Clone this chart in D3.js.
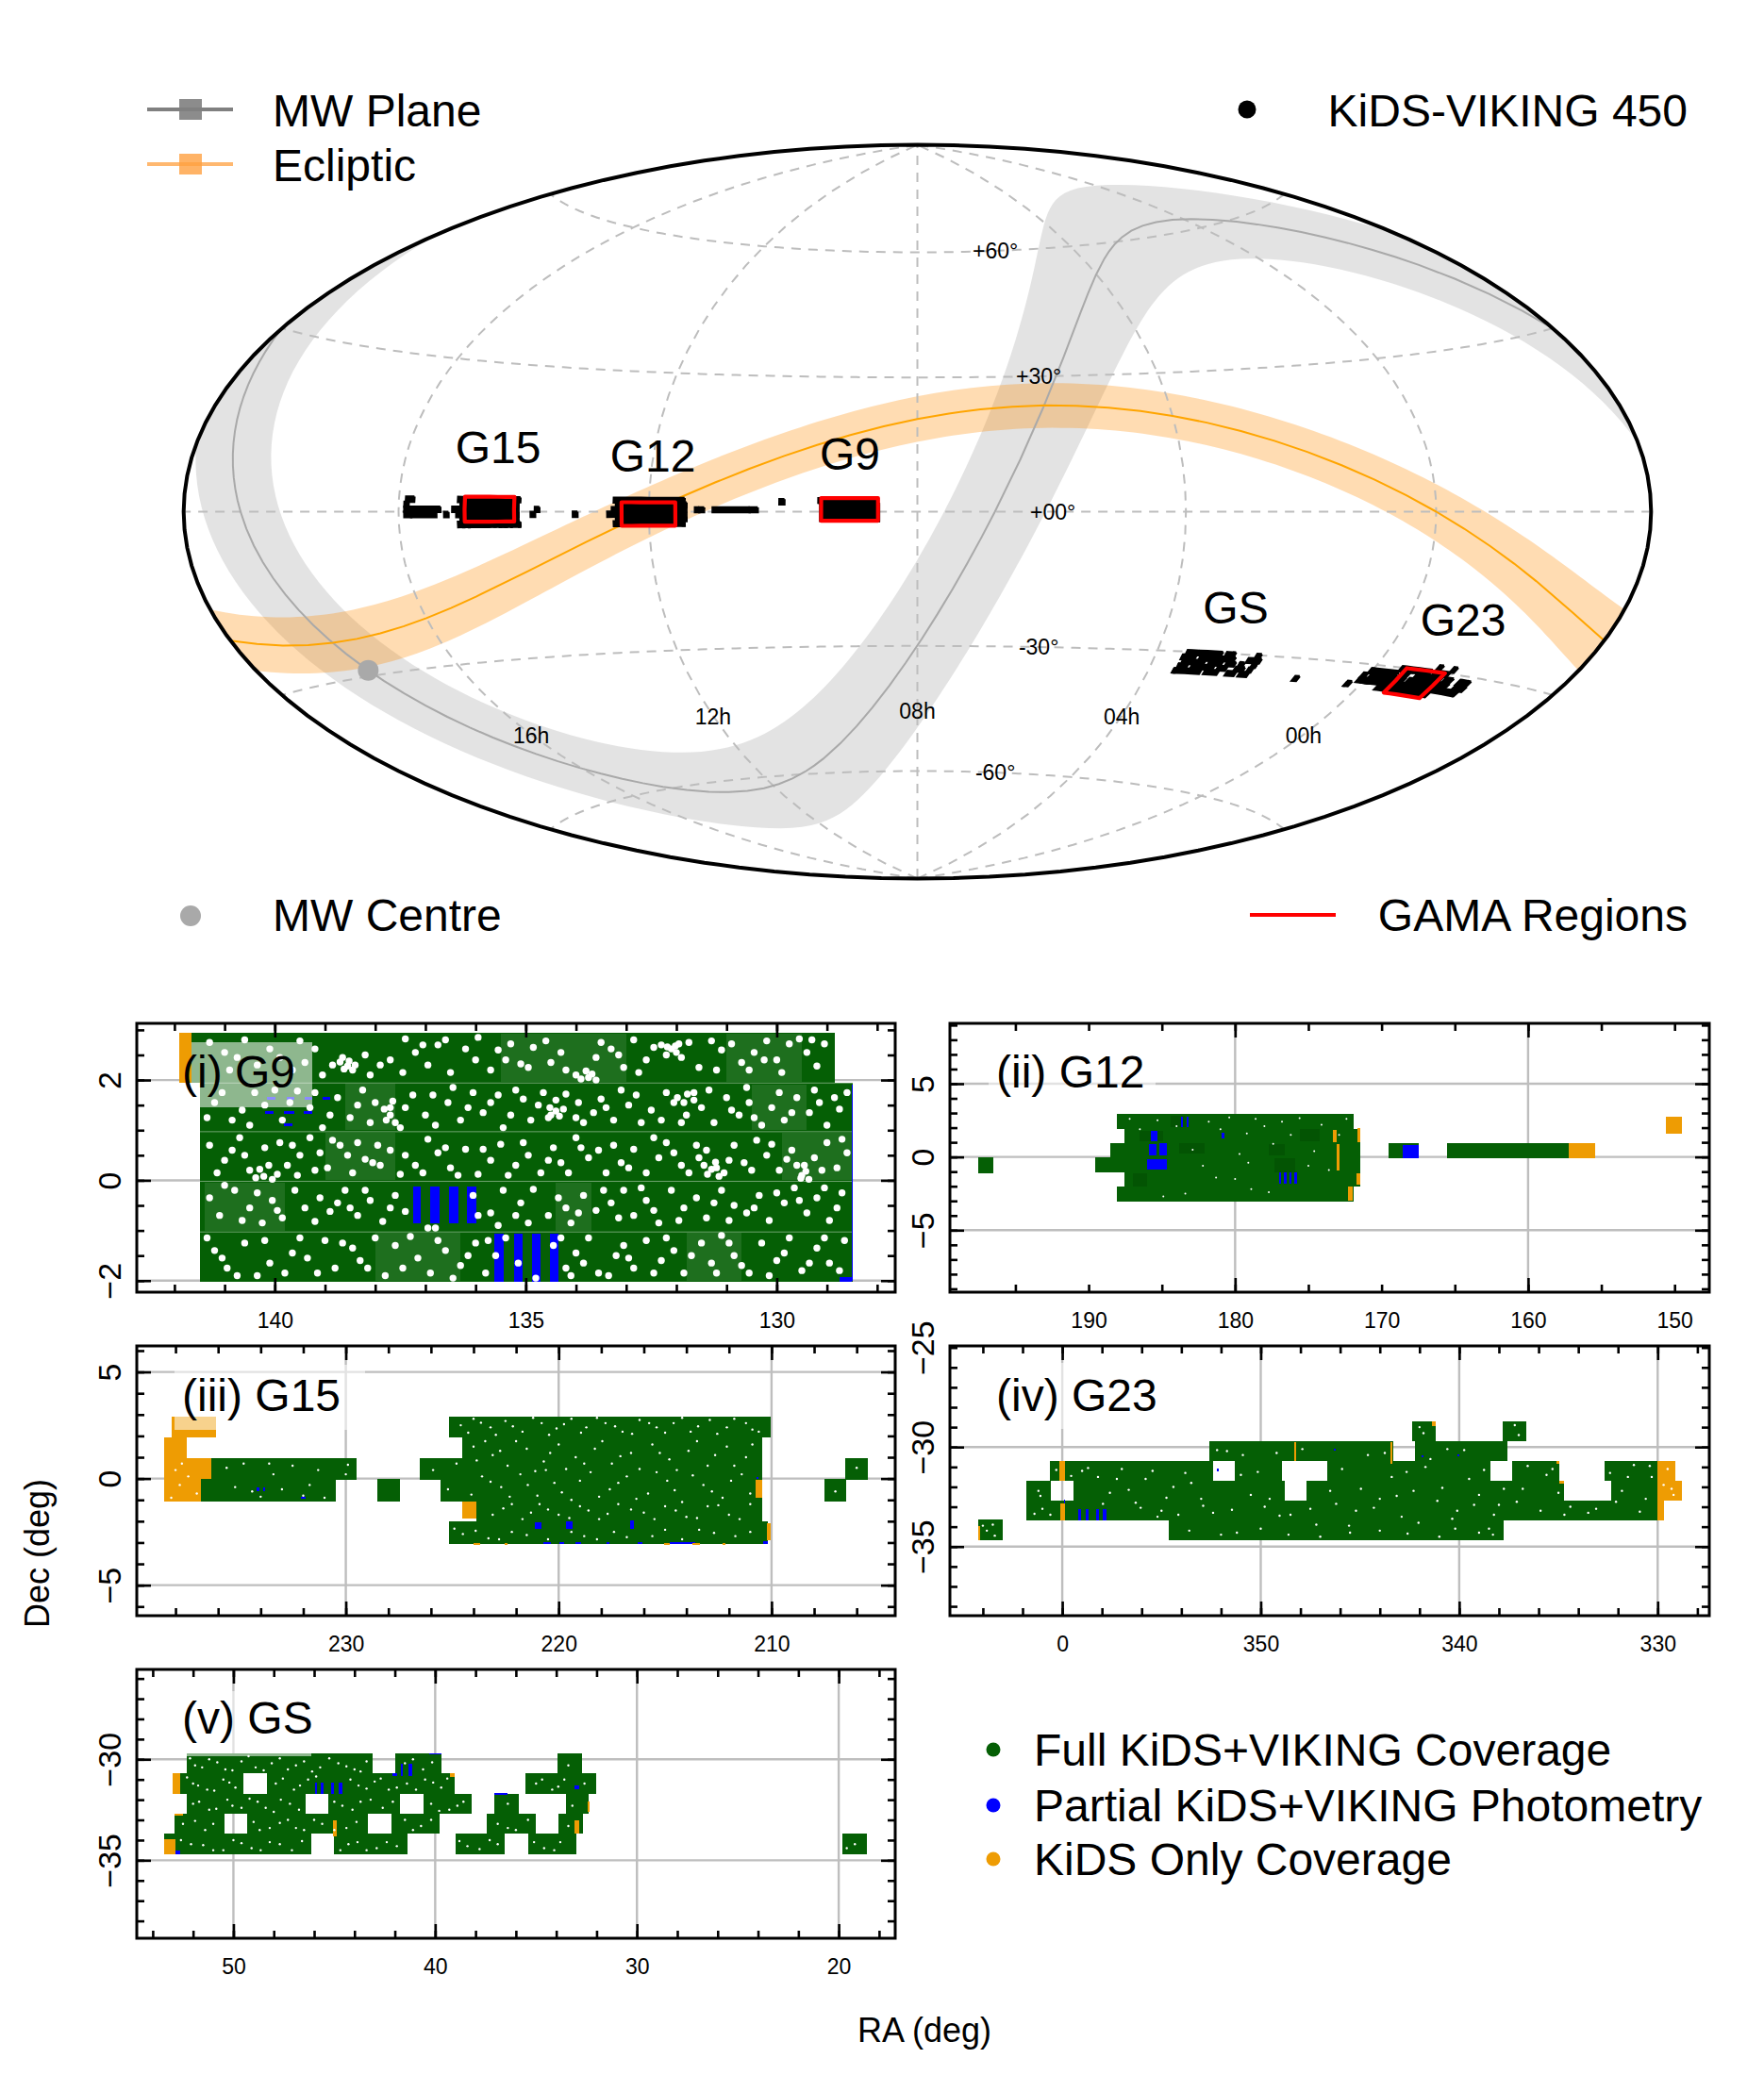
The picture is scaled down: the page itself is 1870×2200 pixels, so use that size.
<!DOCTYPE html>
<html><head><meta charset="utf-8">
<script src="https://cdnjs.cloudflare.com/ajax/libs/d3/7.8.5/d3.min.js"></script>
<style>html,body{margin:0;background:#fff}svg{display:block}text{font-family:"Liberation Sans",Arial,sans-serif;fill:#000}</style>
</head><body>
<script>
// ---------- sky map data (RA, Dec in degrees) ----------
const planeRA  =[12.86,42.86,72.86,102.86,132.86,162.86,192.86,222.86,252.86,282.86,312.86,342.86,12.86];
const planeDec =[62.87,59.4,44.3,0,-44.3,-59.4,-62.87,-59.4,-44.3,0,44.3,59.4,62.87];
const eclipRA  =[0,30,60,90,120,150,180,210,240,270,300,330,360];
const eclipDec =[0,12.23,20.58,23.44,20.58,12.23,0,-12.23,-20.58,-23.44,-20.58,-12.23,0];
const mwPole=[192.86,27.13], mwHalfWidth=10;
const eclipPole=[270,66.56], eclipHalfWidth=5;
const mwCentre=[266.4,-28.94];
const gridRA=[240,180,120,60,0], gridRALabels=["16h","12h","08h","04h","00h"];
const gridDec=[60,30,0,-30,-60], gridDecLabels=["+60°","+30°","+00°","-30°","-60°"];
const gamaBoxes=[[141.3,128.7,-2,3],[186.3,174,-3,2],[223.5,211.5,-2,3],[351,339,-35,-30]];

// ---------- footprint tiles: [RA a, RA b, Dec a, Dec b] ----------
const g9Full=[[141.66,128.85,1.94,2.95],[141.5,128.48,-2.03,1.94]];
const g9Seams=[[141.5,128.48,1.93,1.95],[141.5,128.48,0.96,0.98],[141.5,128.48,-0.03,-0.01],[141.5,128.48,-1.04,-1.02]];
const g9Partial=[[137.25,137.09,-0.86,-0.125],[136.91,136.71,-0.86,-0.125],[136.53,136.35,-0.86,-0.125],[136.17,135.98,-0.86,-0.125],
 [135.62,135.44,-2.03,-1.07],[135.24,135.06,-2.03,-1.07],[134.88,134.71,-2.03,-1.07],[134.52,134.34,-2.03,-1.07],
 [140.15,139.98,1.6,1.66],[139.77,139.62,1.6,1.66],[139.41,139.26,1.6,1.66],[139.05,138.9,1.6,1.66],
 [140.19,140.03,1.33,1.39],[139.82,139.62,1.33,1.39],[139.43,139.26,1.33,1.39],[139.82,139.64,1.08,1.13],
 [128.51,128.48,-2,1.9],[128.75,128.5,-2.03,-1.93]];
const g9Kids=[[141.9,141.66,1.95,2.95]];
const g9Thin=[[138.6,137.6,1,1.93],[139,137.6,0,0.95],[129.9,128.5,0,0.95],[134.4,133.7,-1,-0.05],[131.8,130.7,-2,-1.05],[135.5,133,1.96,2.93],[131,129.5,1.96,2.93],[130.5,129.4,1,1.9],[138,136.3,-2,-1.05],[141.4,139.8,-1,-0.05]];
const g9Holes=[[141.3,2.75],[140.9,2.2],[140.6,2.8],[140.1,2.62],[139.9,2.45],[139.5,2.78],[139.2,2.62],[138.85,2.3],[138.65,2.45],[138.55,2.28],[138.45,2.2],[138.2,2.5],[137.9,2.3],[137.7,2.4],[137.4,2.82],[137.2,2.55],[136.95,2.3],[136.75,2.7],[136.6,2.8],[136.2,2.62],[135.95,2.85],[135.55,2.6],[135.3,2.72],[135.1,2.32],[134.95,2.25],[134.85,2.65],[134.6,2.78],[134.3,2.55],[134.2,2.2],[134.0,2.1],[133.75,2.05],[133.6,2.45],[133.5,2.75],[133.3,2.62],[133.05,2.25],[132.85,2.8],[132.6,2.4],[132.3,2.7],[132.1,2.62],[132.0,2.55],[131.9,2.45],[131.55,2.25],[131.3,2.78],[131.1,2.6],[130.9,2.72],[130.7,2.35],[130.45,2.55],[130.2,2.78],[130.0,2.4],[129.75,2.72],[129.55,2.82],[129.4,2.55],[129.2,2.28],[129.05,2.72],
[141.2,1.55],[140.85,1.2],[140.4,1.75],[140.2,1.5],[139.85,1.2],[139.55,1.78],[139.3,1.45],[139.05,1.05],[138.75,1.65],[138.5,1.25],[138.25,1.8],[138.0,1.55],[137.7,1.45],[137.6,1.15],[137.5,1.05],[137.25,1.7],[137.0,1.3],[136.8,1.1],[136.55,1.55],[136.3,1.2],[136.05,1.75],[135.85,1.35],[135.7,1.55],[135.45,1.05],[135.2,1.8],[135.05,1.62],[134.75,1.5],[134.55,1.25],[134.4,1.6],[134.2,1.72],[134.0,1.25],[133.85,1.15],[133.65,1.35],[133.5,1.62],[133.25,1.2],[132.95,1.5],[132.8,1.7],[132.5,1.4],[132.3,1.2],[132.05,1.55],[131.8,1.3],[131.65,1.75],[131.5,1.45],[131.25,1.15],[131.0,1.65],[130.75,1.3],[130.55,1.55],[130.3,1.1],[130.1,1.45],[129.85,1.2],[129.6,1.65],[129.35,1.35],[129.15,1.55],[129.0,1.1],[128.75,1.42],[128.6,1.75],
[141.3,0.7],[141.0,0.4],[140.7,0.85],[140.5,0.2],[140.2,0.65],[139.95,0.12],[139.75,0.3],[139.55,0.1],[139.5,0.5],[139.3,0.85],[139.1,0.55],[138.95,0.25],[138.7,0.7],[138.45,0.15],[138.2,0.42],[138.05,0.35],[137.9,0.3],[137.7,0.6],[137.5,0.12],[137.2,0.3],[136.95,0.82],[136.75,0.55],[136.5,0.25],[136.2,0.62],[135.95,0.12],[135.7,0.4],[135.5,0.72],[135.2,0.3],[134.95,0.5],[134.7,0.15],[134.45,0.65],[134.3,0.35],[134.0,0.85],[133.75,0.45],[133.55,0.6],[133.4,0.15],[133.1,0.35],[132.85,0.62],[132.6,0.15],[132.35,0.45],[132.2,0.75],[131.9,0.3],[131.55,0.45],[131.4,0.6],[131.2,0.25],[131.05,0.15],[130.85,0.7],[130.65,0.35],[130.4,0.8],[130.2,0.5],[129.95,0.2],[129.7,0.6],[129.5,0.1],[129.45,0.3],[129.25,0.45],[129.0,0.75],[128.8,0.25],[128.6,0.55],
[141.3,-0.35],[141.1,-0.7],[140.8,-0.2],[140.5,-0.55],[140.25,-0.85],[140.05,-0.4],[139.85,-0.75],[139.6,-0.2],[139.4,-0.55],[139.1,-0.35],[138.9,-0.62],[138.6,-0.2],[138.35,-0.7],[138.1,-0.4],[137.85,-0.82],[137.6,-0.3],[137.4,-0.62],[136.95,-0.95],[136.05,-0.3],[135.7,-0.65],[135.45,-0.2],[135.1,-0.45],[134.85,-0.18],[134.55,-0.7],[134.35,-0.35],[134.1,-0.85],[133.85,-0.3],[133.6,-0.6],[133.3,-0.45],[133.05,-0.2],[132.85,-0.7],[132.6,-0.4],[132.35,-0.85],[132.1,-0.2],[131.85,-0.55],[131.6,-0.35],[131.4,-0.75],[131.1,-0.2],[130.85,-0.5],[130.6,-0.65],[130.35,-0.3],[130.15,-0.8],[129.85,-0.45],[129.65,-0.15],[129.4,-0.65],[129.2,-0.35],[128.95,-0.8],[128.7,-0.25],
[141.2,-1.4],[140.95,-1.75],[140.6,-1.25],[140.35,-1.9],[140.1,-1.65],[139.8,-1.85],[139.5,-1.15],[139.35,-1.55],[139.0,-1.2],[138.8,-1.75],[138.45,-1.35],[138.3,-1.6],[138.0,-1.15],[137.8,-1.9],[137.6,-1.3],[137.3,-1.12],[137.15,-1.55],[136.9,-1.85],[136.6,-1.4],[136.3,-1.7],[136.0,-1.25],[135.8,-1.85],[135.6,-1.5],[135.4,-1.15],[135.15,-1.65],[134.8,-1.95],[134.45,-1.3],[134.2,-1.75],[134.0,-1.45],[133.75,-1.15],[133.55,-1.85],[133.2,-1.5],[133.05,-1.3],[132.85,-1.75],[132.6,-1.2],[132.3,-1.6],[132.05,-1.4],[131.85,-1.85],[131.5,-1.25],[131.3,-1.65],[131.1,-1.1],[130.85,-1.5],[130.55,-1.85],[130.3,-1.25],[130.0,-1.6],[129.75,-1.15],[129.5,-1.8],[129.2,-1.35],[128.95,-1.65],[128.65,-1.2]];
const g9Holes2=[[138.7,2.36],[138.62,2.22],[138.52,2.38],[138.4,2.3],[133.8,2.18],[133.68,2.12],[133.9,2.02],[133.6,2.0],[132.18,2.66],[132.02,2.68],[132.2,2.5],[131.95,2.72],[134.52,1.45],[134.4,1.38],[134.33,1.28],[134.5,1.3],[134.25,1.42],[131.45,0.3],[131.3,0.22],[131.22,0.36],[131.38,0.12],[131.15,0.08],[129.6,0.3],[129.42,0.18],[129.52,0.04],[129.36,0.02],[137.82,1.42],[137.7,1.3],[137.78,1.2],[137.65,1.58],[131.98,1.65],[131.85,1.55],[131.78,1.72],[131.65,1.6],[140.3,0.22],[140.22,0.08],[140.12,0.3],[140.05,0.02],[140.38,0.05],
[141.0,2.55],[140.75,2.45],[140.35,2.3],[139.65,2.2],[139.4,2.35],[139.05,2.1],[138.1,2.1],[137.45,2.15],[137.05,2.7],[136.5,2.15],[136.0,2.4],[135.7,2.2],[135.4,2.4],[134.5,2.35],[133.15,2.5],[132.75,2.15],[132.45,2.65],[131.75,2.75],[131.2,2.2],[130.55,2.2],[130.25,2.4],[129.9,2.15],[129.3,2.8],
[141.35,1.25],[141.05,1.75],[140.65,1.4],[140.5,1.1],[140.0,1.8],[139.7,1.55],[139.2,1.75],[138.9,1.3],[138.35,1.5],[138.1,1.15],[137.4,1.45],[136.85,1.7],[136.45,1.85],[136.15,1.45],[135.55,1.7],[135.3,1.3],[134.9,1.2],[134.65,1.75],[133.95,1.55],[133.4,1.45],[133.1,1.8],[132.7,1.15],[132.2,1.75],[131.9,1.15],[131.35,1.8],[130.9,1.4],[130.6,1.85],[130.45,1.25],[129.95,1.75],[129.7,1.35],[129.25,1.8],[128.85,1.65],
[141.15,0.15],[140.85,0.6],[140.6,0.5],[139.9,0.75],[139.65,0.7],[139.2,0.2],[138.85,0.8],[138.55,0.5],[138.35,0.75],[137.95,0.7],[137.4,0.5],[137.05,0.15],[136.6,0.65],[136.35,0.1],[135.85,0.62],[135.35,0.1],[135.05,0.75],[134.55,0.4],[134.15,0.15],[133.9,0.65],[133.25,0.7],[132.95,0.25],[132.45,0.85],[132.05,0.55],[131.75,0.15],[131.6,0.7],[130.95,0.4],[130.5,0.2],[130.1,0.72],[129.8,0.42],[129.1,0.2],[128.7,0.82],
[141.0,-0.1],[140.65,-0.8],[140.35,-0.25],[139.95,-0.6],[139.2,-0.82],[138.75,-0.45],[138.5,-0.55],[138.2,-0.2],[137.7,-0.55],[136.8,-0.95],[135.95,-0.7],[135.55,-0.9],[135.2,-0.7],[134.95,-0.85],[134.2,-0.55],[133.95,-0.65],[133.45,-0.2],[133.15,-0.75],[132.7,-0.15],[132.45,-0.6],[131.95,-0.8],[131.25,-0.45],[130.95,-0.8],[130.45,-0.55],[130.0,-0.25],[129.55,-0.4],[129.05,-0.15],[128.8,-0.55],
[141.35,-1.15],[141.05,-1.55],[140.75,-1.9],[140.2,-1.2],[139.65,-1.45],[139.15,-1.85],[138.65,-1.25],[138.15,-1.75],[137.45,-1.75],[136.75,-1.2],[136.45,-1.95],[136.15,-1.5],[135.75,-1.2],[134.3,-1.15],[134.1,-1.9],[133.85,-1.65],[133.35,-1.9],[132.95,-1.55],[132.45,-1.85],[132.2,-1.15],[131.7,-1.5],[131.2,-1.85],[130.95,-1.25],[130.7,-1.7],[130.15,-1.9],[129.85,-1.45],[129.35,-1.65],[129.05,-1.15],[128.75,-1.8]];

const g12Full=[[188.09,171.9,1.93,2.94],[187.56,171.45,0.97,1.93],[188.5,171.45,0,0.97],[189.54,171.45,-1.07,0],[187.56,171.45,-2.04,-1.07],[188.09,171.9,-3.05,-2.04],[197.56,196.5,-1.1,0],[169.5,168.55,-0.09,0.94],[168.55,167.46,0.82,0.94],[165.51,157.2,-0.09,0.94]];
const g12Dark=[[177.3,175.9,-1.07,-0.1],[186.5,184.9,1.07,1.76],[183.85,182.08,0.21,0.97],[184.4,183.4,2.05,2.8],[175.6,174.2,1.05,1.9],[187,186,-2,-1.1],[177.7,176.6,0.1,0.9]];
const g12Partial=[[186.04,184.66,-0.86,-0.15],[185.87,185.37,0.1,0.86],[185.2,184.66,0.1,0.97],[185.75,185.3,1.1,1.75],[183.7,183.55,2.05,2.75],[183.3,183.15,2.05,2.75],[180.9,180.7,1.25,1.65],[177,176.85,-1.8,-1.07],[176.65,176.5,-1.8,-1.07],[176.3,176.15,-1.8,-1.07],[175.95,175.8,-1.8,-1.07],[168.55,167.46,-0.09,0.82]];
const g12Kids=[[157.2,155.4,-0.09,0.94],[150.57,149.47,1.59,2.75],[173.3,173.07,1,1.82],[171.66,171.45,1,1.97],[173.07,172.86,-0.9,0.86],[171.7,171.45,-1.9,-1.1],[172.3,172,-3,-2.04]];
const g12Specks=[[187.2,2.6],[186.5,1.9],[185.3,2.5],[184,2.1],[182.9,0.5],[181.8,2.4],[181,1.9],[180.4,2.7],[179.7,0.2],[179.2,1.6],[178.6,2.6],[178,2.1],[177.4,0.9],[176.8,2.4],[176.2,1.5],[175.6,2.65],[175,-0.6],[174.6,0.4],[174.1,2.2],[173.6,-0.9],[172.9,1.5],[172.4,2.6],[181.3,-1.4],[180,-1.5],[178.9,-2.2],[177.7,-2.4],[183.4,-2.5],[184.9,-2.7],[179.1,-0.4],[182.2,-0.6]];

const g15Full=[[236.32,229.49,-0.06,0.96],[236.8,230.49,-1.06,0],[228.52,227.47,-1.06,-0.03],[226.52,224.41,-0.06,0.96],[225.53,224.41,-1.06,-0.06],[225.16,210.05,1.92,2.92],[224.53,210.46,-1.06,1.92],[223.85,210.46,-2.05,-1.06],[225.16,210.17,-3.06,-2.02],[207.52,206.48,-1.06,-0.03],[206.52,205.48,-0.06,0.96]];
const g15Partial=[[221.1,220.8,-2.35,-2.05],[219.65,219.35,-2.35,-2.0],[216.65,216.45,-2.35,-1.95],[220.7,220.35,-3.06,-2.98],[219.95,219.75,-3.06,-2.98],[219.2,218.95,-3.06,-2.98],[217.75,217.6,-3.06,-2.98],[216.3,216.05,-3.06,-2.98],[214.8,213.6,-3.06,-2.98],[210.4,210.17,-3.06,-2.95],[234.2,234.05,-0.6,-0.4],[233.9,233.8,-0.6,-0.4],[232.1,231.9,-0.95,-0.85],[210.7,210.6,0,0.05]];
const g15Kids=[[238.19,236.1,1.92,2.92],[238.53,237.48,0.96,1.92],[238.53,236.32,0,0.96],[238.53,236.8,-1.06,0],[224.53,223.85,-1.88,-1.06],[210.73,210.46,-0.89,-0.06],[210.2,210.05,-2.9,-2.1],[224,223.7,-3.1,-3.03],[222.55,222.4,-3.1,-3.03],[215.05,214.8,-3.1,-3.03],[213.7,213.35,-3.1,-3.03],[212.3,212.15,-3.1,-3.03]];
const g15Specks=[[224.6,2.5],[224,2.8],[223.2,2.4],[222.5,2.7],[221.7,2.2],[220.8,2.6],[220.1,2.35],[219.4,2.8],[218.7,2.4],[217.8,2.6],[217,2.2],[216.2,2.75],[215.4,2.4],[214.6,2.6],[213.8,2.2],[212.9,2.75],[212.1,2.4],[211.2,2.6],[210.6,2.2],[224,1.5],[223.1,1.1],[222.4,0.6],[221.5,1.4],[220.7,0.8],[220,1.6],[219.2,1],[218.3,1.4],[217.5,0.7],[216.6,1.2],[215.6,1.6],[214.8,0.9],[213.9,1.3],[213,0.6],[212.1,1.5],[211.2,1],[223.6,0.1],[222.7,-0.4],[221.8,0.2],[221,-0.8],[220.2,-0.2],[219.4,-1],[218.5,0.3],[217.6,-0.5],[216.8,0.1],[215.8,-0.7],[214.9,-0.1],[214.2,-1.1],[213.2,-0.3],[212.3,-0.9],[211.4,0.2],[222.6,-1.4],[221.7,-1.9],[220.9,-1.2],[220,-1.7],[219,-1.3],[218.1,-1.9],[217.2,-1.2],[216,-1.6],[215,-1.3],[214,-1.8],[213,-1.3],[212,-1.7],[211,-1.2],[224.5,-2.6],[223.3,-2.8],[222.2,-2.5],[218.8,-2.7],[217.4,-2.5],[215.6,-2.7],[213.4,-2.4],[211.7,-2.7],[235.6,0.5],[234.8,0.7],[233.4,0.2],[232.5,0.6],[231.3,0.4],[230,0.2],[234.4,-0.6],[233,-0.5],[232,-0.8],[238,0.4],[237.8,-0.3],[237.4,0.1],[237,-0.7],[238.2,-0.9],[237.7,0.7],
[224.25,2.15],[223.65,2.62],[222.95,2.05],[222.15,2.45],[221.2,2.85],[220.45,2.05],[219.75,2.55],[218.95,2.15],[218.2,2.85],[217.35,2.45],[216.55,2.1],[215.75,2.6],[215,2.15],[214.2,2.85],[213.45,2.45],[212.55,2.1],[211.75,2.8],[210.9,2.3],[223.85,0.85],[223.45,1.75],[222.75,1.3],[222,1.75],[221.1,0.35],[220.4,1.2],[219.65,0.45],[218.8,0.7],[217.95,1.75],[217.1,1.05],[216.2,0.45],[215.25,1.2],[214.45,0.4],[213.5,1.75],[212.65,1.1],[211.75,0.6],[210.9,1.6],[224.1,-0.75],[223.2,-0.15],[222.3,-0.85],[221.45,-0.3],[220.6,0.4],[219.85,-0.65],[219,-0.1],[218.1,-0.85],[217.2,-0.2],[216.35,-0.95],[215.4,0.3],[214.55,-0.55],[213.7,0.15],[212.8,-0.6],[211.9,-0.1],[211,-0.7],[223.1,-1.7],[222.2,-1.2],[221.3,-1.6],[220.5,-1.45],[219.5,-1.85],[218.6,-1.5],[217.7,-1.65],[216.6,-1.45],[215.5,-1.9],[214.5,-1.5],[213.5,-1.85],[212.5,-1.25],[211.5,-1.9],[224.9,-2.35],[223.9,-2.45],[222.8,-2.85],[221.5,-2.65],[220.5,-2.85],[219.4,-2.5],[218.2,-2.85],[216.8,-2.75],[215,-2.4],[214.2,-2.85],[212.7,-2.55],[211,-2.5],[235.2,-0.4],[234,-0.85],[233.6,0.7],[231.7,-0.3],[231,-0.9],[229.9,0.65],[225.9,0.4],[225.2,-0.5],[224.8,0.7],[206,0.5],[207,-0.6]];

const g23Full=[[342.35,341.17,-29.72,-28.72],[337.81,336.61,-29.72,-28.72],[352.59,343.31,-30.71,-29.72],[342.22,337.57,-30.71,-29.72],[360.63,352.41,-31.71,-30.71],[351.32,348.92,-31.71,-30.71],[346.65,338.44,-31.71,-30.71],[337.34,334.97,-31.71,-30.71],[332.67,330.01,-31.71,-30.71],[361.83,360.57,-32.71,-31.71],[359.43,348.79,-32.71,-31.71],[347.69,334.71,-32.71,-31.71],[332.36,330.01,-32.71,-31.71],[361.83,330.01,-33.67,-32.71],[354.63,337.76,-34.67,-33.67],[364.25,363,-34.67,-33.64]];
const g23Partial=[[359.9,359.84,-32.95,-32.65],[359.2,359.05,-33.67,-33.1],[358.8,358.65,-33.67,-33.1],[358.3,358.15,-33.67,-33.1],[357.95,357.75,-33.67,-33.1],[352.2,352.1,-31.2,-31.1],[346.3,346.2,-30.2,-30.1],[341.9,341.8,-30.5,-30.4],[340.1,340,-30.45,-30.35]];
const g23Kids=[[330,329.1,-31.71,-30.71],[330,328.79,-32.71,-31.71],[330,329.67,-33.67,-32.71],[360.13,359.84,-31.71,-30.71],[360.1,359.85,-33.67,-32.85],[364.25,364.12,-34.67,-33.98],[348.3,348.2,-30.71,-29.75],[343.45,343.35,-30.85,-29.75],[341.35,341.17,-28.95,-28.72],[335.1,334.97,-30.85,-30.71],[334.97,334.71,-31.82,-31.71]];
const g23Specks=[[361.2,-32.2],[361,-33.1],[360.6,-33.4],[359,-31.2],[358.2,-31.5],[357.6,-32.3],[357,-31.1],[356.3,-32.8],[355.8,-31.6],[355,-33.2],[354.4,-32],[353.8,-31.3],[353,-32.6],[352.4,-33.3],[351.7,-30.2],[351,-31.4],[350.5,-32.4],[349.8,-33],[349.2,-30.3],[348.5,-33.4],[347.9,-30.1],[347.2,-33.9],[346.5,-32.2],[345.9,-31.1],[345.2,-33.2],[344.6,-30.4],[344,-32.6],[343.4,-31.5],[342.9,-33.5],[342.3,-32.2],[341.7,-31],[341.1,-32.7],[340.6,-30.1],[340.1,-33.2],[339.5,-31.6],[339,-32.4],[338.5,-34.1],[338,-32.9],[337.4,-31.2],[336.8,-32.1],[336.2,-29.1],[335.6,-31.4],[335,-32.3],[334.4,-33],[333.5,-33.3],[332.4,-31.3],[331.8,-32.2],[331.2,-30.9],[330.6,-32.6],[330.3,-31.5],[337.2,-28.9],[342,-29],[352,-34.4],[350,-34.1],[347,-34.5],[344,-34.2],[341,-34.5],[339,-34.3],[363.8,-34.2],[363.5,-33.9],[329.5,-31.1],[329.3,-32.1],[329.7,-31.9],[329.2,-32.4],
[360.3,-31.15],[359.55,-31.45],[358.7,-31.05],[357.95,-32.85],[357.25,-31.6],[356.65,-32.15],[356.05,-33.05],[355.45,-31.2],[354.75,-32.55],[354.15,-33.4],[353.5,-31.8],[352.9,-32.95],[352.2,-30.15],[351.45,-33.15],[350.9,-30.4],[350.15,-31.25],[349.55,-32.6],[349.05,-33.45],[348.25,-32.2],[347.5,-33.1],[346.95,-31.45],[346.2,-32.85],[345.55,-33.95],[344.95,-32.1],[344.3,-33.05],[343.75,-30.3],[343.15,-32.45],[342.65,-31.25],[342.05,-33.8],[341.45,-30.6],[340.85,-32.05],[340.35,-33.6],[339.75,-30.15],[339.25,-32.9],[338.75,-31.15],[338.25,-33.4],[337.75,-32.1],[337.1,-32.75],[336.55,-30.95],[335.9,-33.2],[335.3,-31.1],[334.7,-33.4],[334.1,-32.05],[333.1,-33.1],[332.1,-32.75],[331.5,-31.5],[330.9,-33.25],[330.4,-30.95],[364,-33.95],[363.4,-34.45],[361.4,-33.35],[361.1,-32.45],[355.2,-33.5],[353.6,-34.2],[351.2,-34.3],[348.6,-34.4],[345.5,-34.3],[342.6,-34.35],[340.2,-34.1],[338.3,-34.4],[341.8,-29.3],[337,-29.4]];

const gsFull=[[52.33,43.1,-30.7,-29.7],[42,39.67,-30.7,-29.7],[33.95,32.74,-30.7,-29.7],[52.64,49.49,-31.72,-30.7],[48.33,39.05,-31.72,-30.7],[35.54,32,-31.72,-30.7],[52.33,46.44,-32.7,-31.72],[45.28,41.74,-32.7,-31.72],[40.59,38.2,-32.7,-31.72],[37.05,35.85,-32.7,-31.72],[33.54,32.38,-32.7,-31.72],[52.9,50.46,-33.69,-32.7],[49.31,43.33,-33.69,-32.7],[42.18,39.77,-33.69,-32.7],[37.46,35,-33.69,-32.7],[33.87,32.69,-33.69,-32.7],[53.44,46.15,-34.69,-33.69],[45,41.36,-34.69,-33.69],[39,36.56,-34.69,-33.69],[35.41,33,-34.69,-33.69],[19.82,18.59,-34.69,-33.69]];
const gsPartial=[[45.95,45.87,-31.72,-31.15],[45.65,45.52,-31.72,-31.15],[45.17,45,-31.72,-31.15],[44.8,44.6,-31.72,-31.15],[41.72,41.6,-30.85,-30.2],[41.33,41.13,-30.85,-30.2],[42.1,41.9,-30.85,-30.7],[40.3,39.67,-29.75,-29.7],[37.05,36.4,-31.75,-31.66],[33.1,32.85,-31.5,-31.3],[52.87,52.64,-34.69,-34.54]];
const gsKids=[[53.03,52.64,-31.72,-30.7],[32.45,32.35,-32.6,-32.1],[33.1,32.85,-33.69,-33],[45.05,44.9,-33.8,-33],[52.9,52.5,-32.8,-32.7],[53.44,52.87,-34.69,-33.95],[39.27,39.05,-30.88,-30.7]];
const gsSpecks=[[51.9,-30.3],[51.2,-30],[50.4,-30.5],[49.6,-30.1],[48.9,-30.4],[48.1,-30.2],[47.3,-30.5],[46.5,-30.1],[45.7,-30.4],[44.8,-30.2],[44,-30.5],[43.4,-30.1],[41.5,-30.2],[40.6,-30.5],[33.4,-30.3],[52,-31.2],[51.3,-31.5],[50.5,-31],[49.9,-31.4],[47.9,-31.2],[47,-31.5],[46.3,-31],[43.8,-31.3],[43,-31.1],[42.3,-31.5],[41.4,-31.2],[40.5,-31],[39.7,-31.4],[35,-31.2],[34.2,-31.5],[33.6,-31],[52,-32.2],[51.2,-32.5],[50.3,-32],[49.6,-32.4],[48.8,-32.1],[48,-32.6],[47.2,-32.2],[44.6,-32.3],[43.7,-32.1],[42.6,-32.4],[40.2,-32.2],[39.3,-32.5],[38.6,-32.1],[33.2,-32.3],[52.5,-33.2],[51.4,-33.5],[49,-33.1],[48.2,-33.4],[47.3,-33],[46.5,-33.5],[45.6,-33.2],[44.4,-33.4],[41.5,-33],[40.7,-33.3],[36.9,-33.2],[36,-33.5],[35.4,-33],[33.4,-33.3],[52.1,-34.2],[51,-34.5],[50,-34],[49.1,-34.4],[48.2,-34.1],[47.1,-34.5],[44.3,-34.2],[43.4,-34.5],[42.4,-34.1],[38.4,-34.3],[37.3,-34],[34.6,-34.4],[33.8,-34.1],[19.2,-34.2],[19.6,-34.4],
[52.15,-29.95],[51.55,-30.4],[50.8,-30.15],[50.05,-30.55],[49.25,-29.85],[48.5,-30.55],[47.7,-29.95],[46.9,-30.3],[46.1,-30.6],[45.25,-29.95],[44.4,-30.35],[43.7,-30.6],[41.1,-30],[40.15,-30.15],[52.3,-30.9],[51.75,-31.3],[50.95,-31.55],[50.2,-31.15],[47.55,-30.95],[46.7,-31.3],[45.9,-30.85],[44.2,-31],[43.4,-31.45],[42.7,-30.95],[41.9,-31.4],[40.95,-31.5],[40.1,-31.15],[39.4,-30.95],[34.7,-31],[33.9,-31.35],[32.6,-31.2],[51.7,-32.1],[50.85,-32.45],[50.05,-32.3],[49.2,-31.95],[48.4,-32.4],[47.65,-32],[46.75,-32.5],[45,-32.1],[44.1,-32.5],[43.2,-32],[42.1,-32.1],[39.8,-32.55],[38.9,-32.3],[36.4,-32.2],[51.9,-33.05],[51,-33.2],[48.7,-33.5],[47.7,-33.15],[46.9,-33.4],[46,-33],[45,-33.5],[43.9,-33.1],[41.1,-33.5],[40.2,-33],[36.4,-33.4],[34,-33.1],[52.6,-34],[51.5,-34.25],[50.5,-34.5],[49.6,-34.15],[48.65,-34.5],[47.7,-34.2],[46.6,-34.05],[44.7,-34.5],[43.85,-34.1],[42.9,-34.4],[41.9,-34.3],[38.8,-34.05],[37.8,-34.45],[36.9,-34.2],[35.1,-34.1],[34.1,-34.5]];

// ---------- panel axis values ----------
const g9XTicks=[140,135,130], g9YTicks=[2,0,-2];
const g12XTicks=[190,180,170,160,150], g12XGrid=[180,160], g12YTicks=[5,0,-5];
const g15XTicks=[230,220,210], g15YTicks=[5,0,-5];
const g23XTicks=[360,350,340,330], g23YTicks=[-25,-30,-35], g23YGrid=[-30,-35];
const gsXTicks=[50,40,30,20], gsYTicks=[-30,-35];

const legendCoverage=["Full KiDS+VIKING Coverage","Partial KiDS+VIKING Photometry","KiDS Only Coverage"];
const GREEN="#055f05",BLUE="#0000ff",ORANGE="#ee9c03";

const svg=d3.select("body").append("svg").attr("width",1870).attr("height",2200);
const fs=48;

// ---------- Hammer-Aitoff sky map ----------
function hammerRaw(l,p){const c=Math.cos(p),d=Math.sqrt(1+c*Math.cos(l/2));return [2*Math.SQRT2*c*Math.sin(l/2)/d,Math.SQRT2*Math.sin(p)/d];}
const proj=d3.geoProjection(hammerRaw).rotate([-120,0]).reflectX(true).scale(275).translate([972.5,542.5]).precision(0.3);
const path=d3.geoPath(proj);
const map=svg.append("g");
function band(pole,hw){
  const a=d3.geoCircle().center(pole).radius(90+hw).precision(2)().coordinates[0];
  const b=d3.geoCircle().center(pole).radius(90-hw).precision(2)().coordinates[0].slice().reverse();
  return {type:"Polygon",coordinates:[a,b]};
}
map.append("path").datum({type:"Sphere"}).attr("d",path).attr("fill","#fff");
map.append("path").datum(band(mwPole,mwHalfWidth)).attr("d",path).attr("fill","#7f7f7f").attr("fill-opacity",0.22);
map.append("path").datum(band(eclipPole,eclipHalfWidth)).attr("d",path).attr("fill","#ff8c00").attr("fill-opacity",0.3);
const gl=map.append("g").attr("fill","none").attr("stroke","#bdbdbd").attr("stroke-width",2).attr("stroke-dasharray","10,8");
gridRA.forEach(r=>gl.append("path").datum({type:"LineString",coordinates:d3.range(-89.9,90,5).concat(89.9).map(d=>[r,d])}).attr("d",path));
gridDec.forEach(dc=>gl.append("path").datum({type:"LineString",coordinates:d3.range(-59.95,299.95,3).concat(299.95).map(r=>[r,dc])}).attr("d",path));
const line=(ra,dc)=>({type:"LineString",coordinates:ra.map((r,i)=>[r,dc[i]])});
map.append("path").datum(line(planeRA,planeDec)).attr("d",path).attr("fill","none").attr("stroke","#a9a9a9").attr("stroke-width",2);
map.append("path").datum(line(eclipRA,eclipDec)).attr("d",path).attr("fill","none").attr("stroke","#ffa500").attr("stroke-width",2);
map.append("circle").attr("cx",proj(mwCentre)[0]).attr("cy",proj(mwCentre)[1]).attr("r",11).attr("fill","#a9a9a9");
function ring([a,b,c,d]){
  const hi=Math.max(a,b),lo=Math.min(a,b),s=d3.range(lo,hi,2).concat(hi);
  return {type:"LineString",coordinates:s.map(r=>[r,d]).concat(s.slice().reverse().map(r=>[r,c])).concat([[lo,d]])};
}
const allTiles=[].concat(g9Full,g9Partial,g9Kids,g12Full,g12Partial,g12Kids,g15Full,g15Partial,g15Kids,g23Full,g23Partial,g23Kids,gsFull,gsPartial,gsKids);
map.append("g").selectAll("path").data(allTiles).join("path").attr("d",d=>path(ring(d))).attr("fill","#000").attr("stroke","#000").attr("stroke-width",2.5);
map.append("g").selectAll("path").data(gamaBoxes).join("path").attr("d",d=>path(ring(d))+"Z").attr("fill","none").attr("stroke","#ff0000").attr("stroke-width",4.2).attr("stroke-linejoin","round");
map.append("path").datum({type:"Sphere"}).attr("d",path).attr("fill","none").attr("stroke","#000").attr("stroke-width",4);
const t24=map.append("g").attr("font-size",23).attr("text-anchor","middle");
gridRA.forEach((r,i)=>{const p=proj([r,-45]);t24.append("text").attr("x",p[0]).attr("y",p[1]+9).text(gridRALabels[i]);});
gridDec.forEach((dc,i)=>{const p=proj([90,dc]);t24.append("text").attr("x",p[0]).attr("y",p[1]+8).text(gridDecLabels[i]);});

const txt=(x,y,s,a,size)=>svg.append("text").attr("x",x).attr("y",y).attr("font-size",size||fs).attr("text-anchor",a||"start").text(s);
[["G15",528,491],["G12",692,500],["G9",901,498],["GS",1310,661],["G23",1551,674]].forEach(d=>txt(d[1],d[2],d[0],"middle"));
// map legends
function legLine(y,col,sq,op){
  svg.append("line").attr("x1",156).attr("x2",247).attr("y1",y).attr("y2",y).attr("stroke",col).attr("stroke-width",4);
  svg.append("rect").attr("x",190).attr("y",y-11).attr("width",24).attr("height",22).attr("fill",sq).attr("fill-opacity",op);
}
legLine(116,"#808080","#808080",0.9);legLine(174,"#ffb870","#ffa040",0.8);
txt(289,134,"MW Plane");txt(289,192,"Ecliptic");
svg.append("circle").attr("cx",1322).attr("cy",116).attr("r",9.5).attr("fill","#000");
txt(1789,134,"KiDS-VIKING 450","end");
svg.append("circle").attr("cx",202).attr("cy",971).attr("r",11).attr("fill","#a9a9a9");
txt(289,987,"MW Centre");
svg.append("line").attr("x1",1325).attr("x2",1416).attr("y1",970).attr("y2",970).attr("stroke","#ff0000").attr("stroke-width",4);
txt(1789,987,"GAMA Regions","end");
// coverage legend
[[1855,GREEN],[1914,BLUE],[1971,ORANGE]].forEach((d,i)=>{
  svg.append("circle").attr("cx",1053).attr("cy",d[0]).attr("r",7.5).attr("fill",d[1]);
  txt(1096,d[0]+17,legendCoverage[i]);
});
txt(980,2165,"RA (deg)","middle",36);
svg.append("text").attr("transform","translate(52,1647) rotate(-90)").attr("font-size",36).attr("text-anchor","middle").text("Dec (deg)");

// ---------- zoom panels ----------
const minus=d=>d<0?"\u2212"+(-d):String(d);
function panel(c){
  const x=d3.scaleLinear().domain(c.xd).range([c.l,c.r]);
  const y=d3.scaleLinear().domain(c.yd).range([c.b,c.t]);
  const g=svg.append("g");
  const clip="c"+c.l+"_"+c.t;
  g.append("clipPath").attr("id",clip).append("rect").attr("x",c.l).attr("y",c.t).attr("width",c.r-c.l).attr("height",c.b-c.t);
  const body=g.append("g").attr("clip-path","url(#"+clip+")");
  const gx=c.xGrid||c.xt, gy=c.yGrid||c.yt;
  body.selectAll(".gx").data(gx).join("line").attr("x1",d=>x(d)).attr("x2",d=>x(d)).attr("y1",c.t).attr("y2",c.b).attr("stroke","#bebebe").attr("stroke-width",2.4);
  body.selectAll(".gy").data(gy).join("line").attr("y1",d=>y(d)).attr("y2",d=>y(d)).attr("x1",c.l).attr("x2",c.r).attr("stroke","#bebebe").attr("stroke-width",2.4);
  const rects=(arr,col,op,crisp)=>body.append("g").attr("shape-rendering",crisp===false?"auto":"crispEdges").selectAll("rect").data(arr).join("rect")
    .attr("x",d=>Math.min(x(d[0]),x(d[1]))).attr("width",d=>Math.abs(x(d[1])-x(d[0])))
    .attr("y",d=>Math.min(y(d[2]),y(d[3]))).attr("height",d=>Math.abs(y(d[3])-y(d[2]))).attr("fill",col).attr("fill-opacity",op||1);
  rects(c.full,GREEN);
  if(c.dark) rects(c.dark,"#003c00",0.3);
  if(c.thin) rects(c.thin,"#fff",0.1);
  if(c.seams) rects(c.seams,"#fff",0.4,false);
  rects(c.partial,BLUE);
  rects(c.kids,ORANGE);
  body.append("g").selectAll("circle").data(c.holes).join("circle").attr("cx",d=>x(d[0])).attr("cy",d=>y(d[1])).attr("r",c.hr).attr("fill","#fff");
  g.append("rect").attr("x",c.box[0]).attr("y",c.box[1]).attr("width",c.box[2]).attr("height",c.box[3]).attr("fill","#fff").attr("fill-opacity",0.55);
  txt(c.lab[0],c.lab[1],c.name);
  // ticks on all sides
  const range=(d,s)=>{const lo=Math.min(d[0],d[1]),hi=Math.max(d[0],d[1]);return d3.range(Math.ceil(lo/s),Math.floor(hi/s)+1).map(k=>k*s);};
  const tk=(gen,tr)=>{const a=g.append("g").attr("transform",tr).call(gen);a.select(".domain").remove();a.selectAll("line").attr("stroke","#000").attr("stroke-width",2.6);a.selectAll("text").remove();};
  const xm=range(c.xd,c.xs), ym=range(c.yd,c.ys);
  tk(d3.axisBottom(x).tickValues(xm).tickSize(-8).tickSizeOuter(0),`translate(0,${c.b})`);
  tk(d3.axisTop(x).tickValues(xm).tickSize(-8).tickSizeOuter(0),`translate(0,${c.t})`);
  tk(d3.axisBottom(x).tickValues(gx).tickSize(-15).tickSizeOuter(0),`translate(0,${c.b})`);
  tk(d3.axisTop(x).tickValues(gx).tickSize(-15).tickSizeOuter(0),`translate(0,${c.t})`);
  tk(d3.axisLeft(y).tickValues(ym).tickSize(-8).tickSizeOuter(0),`translate(${c.l},0)`);
  tk(d3.axisRight(y).tickValues(ym).tickSize(-8).tickSizeOuter(0),`translate(${c.r},0)`);
  tk(d3.axisLeft(y).tickValues(gy).tickSize(-15).tickSizeOuter(0),`translate(${c.l},0)`);
  tk(d3.axisRight(y).tickValues(gy).tickSize(-15).tickSizeOuter(0),`translate(${c.r},0)`);
  g.append("rect").attr("x",c.l).attr("y",c.t).attr("width",c.r-c.l).attr("height",c.b-c.t).attr("fill","none").attr("stroke","#000").attr("stroke-width",3);
  // labels
  const ax=g.append("g").attr("transform",`translate(0,${c.b})`).call(d3.axisBottom(x).tickValues(c.xt).tickSize(0).tickFormat(d=>String(d%360)));
  ax.select(".domain").remove();
  ax.selectAll("text").attr("font-size",23).attr("y",38).attr("dy",0);
  ax.attr("font-family",null);
  const ay=g.append("g").attr("transform",`translate(${c.l},0)`).call(d3.axisLeft(y).tickValues(c.yt).tickSize(0).tickFormat(minus));
  ay.select(".domain").remove();
  ay.selectAll("text").attr("font-size",34).attr("x",0).attr("y",-17).attr("dy",0).attr("text-anchor","middle").attr("transform","rotate(-90)");
  ay.attr("font-family",null);
}
const P=[
 {name:"(i) G9",l:145,r:949,t:1085,b:1370,xd:[142.75,127.64],yd:[-2.23,3.13],xs:1,ys:0.5,xt:g9XTicks,yt:g9YTicks,full:g9Full,seams:g9Seams,partial:g9Partial,kids:g9Kids,thin:g9Thin,holes:g9Holes.concat(g9Holes2),hr:3.7,box:[203,1105,128,69],lab:[193,1153]},
 {name:"(ii) G12",l:1007,r:1812,t:1085,b:1370,xd:[199.47,147.63],yd:[-9.23,9.12],xs:5,ys:1,xt:g12XTicks,xGrid:g12XGrid,yt:g12YTicks,full:g12Full,dark:g12Dark,partial:g12Partial,kids:g12Kids,holes:g12Specks,hr:1,box:[1048,1105,177,69],lab:[1056,1153]},
 {name:"(iii) G15",l:145,r:949,t:1427,b:1713,xd:[239.82,204.19],yd:[-6.43,6.22],xs:2,ys:1,xt:g15XTicks,yt:g15YTicks,full:g15Full,partial:g15Partial,kids:g15Kids,holes:g15Specks,hr:1.2,box:[185,1447,202,69],lab:[193,1496]},
 {name:"(iv) G23",l:1007,r:1812,t:1427,b:1713,xd:[365.66,327.4],yd:[-38.47,-24.92],xs:2,ys:1,xt:g23XTicks,yt:g23YTicks,yGrid:g23YGrid,full:g23Full,partial:g23Partial,kids:g23Kids,holes:g23Specks,hr:1.2,box:[1048,1445,188,70],lab:[1056,1496]},
 {name:"(v) GS",l:145,r:949,t:1770,b:2055,xd:[54.79,17.2],yd:[-38.86,-25.55],xs:2,ys:1,xt:gsXTicks,yt:gsYTicks,full:gsFull,partial:gsPartial,kids:gsKids,holes:gsSpecks,hr:1.2,box:[185,1793,145,69],lab:[193,1838]}
];
P.forEach(panel);
</script>
</body></html>
